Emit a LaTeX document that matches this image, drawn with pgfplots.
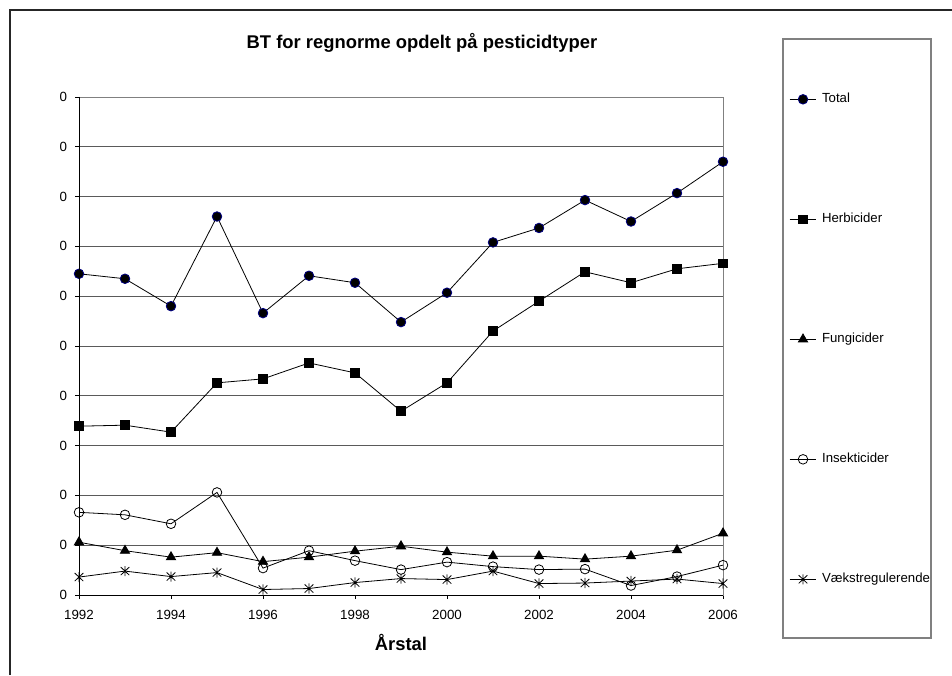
\documentclass[border=0pt]{standalone}
\usepackage{fontspec}
\setmainfont{Liberation Sans}
\usepackage{pgfplots}
\pgfplotsset{compat=1.18}
\definecolor{navy}{RGB}{0,0,128}
\definecolor{gridc}{RGB}{90,90,90}
\definecolor{framec}{RGB}{128,128,128}
% Excel-style asterisk: vertical bar plus an X
\pgfdeclareplotmark{xlast}{%
  \pgfpathmoveto{\pgfqpoint{0pt}{-\pgfplotmarksize}}%
  \pgfpathlineto{\pgfqpoint{0pt}{\pgfplotmarksize}}%
  \pgfpathmoveto{\pgfqpoint{-0.85\pgfplotmarksize}{-0.8\pgfplotmarksize}}%
  \pgfpathlineto{\pgfqpoint{0.85\pgfplotmarksize}{0.8\pgfplotmarksize}}%
  \pgfpathmoveto{\pgfqpoint{-0.85\pgfplotmarksize}{0.8\pgfplotmarksize}}%
  \pgfpathlineto{\pgfqpoint{0.85\pgfplotmarksize}{-0.8\pgfplotmarksize}}%
  \pgfusepathqstroke}

\begin{document}
\begin{tikzpicture}
\begin{scope}[x=0.75pt,y=0.75pt]
\path[use as bounding box] (0,0) rectangle (952,675);
% outer chart frame (only top and left edges inside the picture)
\draw[black!85,line width=1.3pt] (10,0) -- (10,665) -- (952,665);
% legend frame
\draw[framec,line width=1.1pt] (783,37) rectangle (931,636);
\node[font=\fontsize{13.8}{16}\selectfont\bfseries] at (422,632) {BT for regnorme opdelt på pesticidtyper};
\node[font=\fontsize{13.8}{16}\selectfont\bfseries] at (401,33) {Årstal};
\end{scope}

\begin{axis}[at={(59.25pt,60pt)},anchor=south west,scale only axis,
  width=483pt,height=373.5pt,
  xmin=1992,xmax=2006,ymin=0,ymax=10,
  xtick={1992,1994,1996,1998,2000,2002,2004,2006},
  xticklabels={1992,1994,1996,1998,2000,2002,2004,2006},
  ytick={0,1,...,10},
  yticklabels={0,0,0,0,0,0,0,0,0,0,0},
  xtick pos=bottom,ytick pos=left,tick align=outside,
  major tick length=3pt,tick style={black,line width=0.6pt},
  /pgf/number format/assume math mode=true,
  tick label style={font=\fontsize{10}{12}\selectfont},
  xticklabel style={yshift=-5pt},
  yticklabel style={xshift=-2.5pt},
  axis line style={framec,line width=0.7pt},
  ymajorgrids,grid style={gridc,line width=0.7pt},
  clip=false,
  every axis plot/.append style={black,line width=0.6pt},
  legend style={draw=none,fill=none,at={(1.1025,1.0106)},anchor=north west,
    inner sep=0pt,row sep=79pt,column sep=3pt,font=\fontsize{9.9}{11}\selectfont,
    nodes={inner sep=1pt,text height=7pt,text depth=2pt},
    cells={anchor=west}},
  legend image code/.code={\draw[mark repeat=2,mark phase=2,#1]
    plot coordinates {(0pt,0pt) (10pt,0pt) (20pt,0pt)};},
  after end axis/.code={\draw[black,line width=0.7pt]
    (rel axis cs:0,1) -- (rel axis cs:0,0) -- (rel axis cs:1,0);}]

\addplot[mark=*,mark size=3.6pt,mark options={fill=black,draw=navy,line width=0.6pt}] coordinates {
  (1992,6.45) (1993,6.35) (1994,5.80) (1995,7.60) (1996,5.66) (1997,6.41)
  (1998,6.27) (1999,5.48) (2000,6.07) (2001,7.08) (2002,7.37) (2003,7.93)
  (2004,7.50) (2005,8.07) (2006,8.70)};
\addlegendentry{Total}

\addplot[mark=square*,mark size=3.3pt,mark options={fill=black}] coordinates {
  (1992,3.39) (1993,3.41) (1994,3.27) (1995,4.26) (1996,4.34) (1997,4.66)
  (1998,4.46) (1999,3.69) (2000,4.26) (2001,5.30) (2002,5.90) (2003,6.49)
  (2004,6.27) (2005,6.55) (2006,6.66)};
\addlegendentry{Herbicider}

\addplot[mark=triangle*,mark size=4pt,mark options={fill=black}] coordinates {
  (1992,1.06) (1993,0.89) (1994,0.76) (1995,0.85) (1996,0.67) (1997,0.76)
  (1998,0.88) (1999,0.98) (2000,0.86) (2001,0.78) (2002,0.78) (2003,0.72)
  (2004,0.78) (2005,0.90) (2006,1.24)};
\addlegendentry{Fungicider}

\addplot[mark=o,mark size=3.6pt,mark options={fill=white}] coordinates {
  (1992,1.66) (1993,1.61) (1994,1.43) (1995,2.06) (1996,0.54) (1997,0.89)
  (1998,0.69) (1999,0.51) (2000,0.66) (2001,0.57) (2002,0.51) (2003,0.52)
  (2004,0.19) (2005,0.37) (2006,0.60)};
\addlegendentry{Insekticider}

\addplot[mark=xlast,mark size=3.8pt] coordinates {
  (1992,0.36) (1993,0.48) (1994,0.37) (1995,0.45) (1996,0.11) (1997,0.13)
  (1998,0.25) (1999,0.33) (2000,0.31) (2001,0.48) (2002,0.23) (2003,0.24)
  (2004,0.28) (2005,0.32) (2006,0.23)};
\addlegendentry{Vækstregulerende}
\end{axis}
\end{tikzpicture}
\end{document}
